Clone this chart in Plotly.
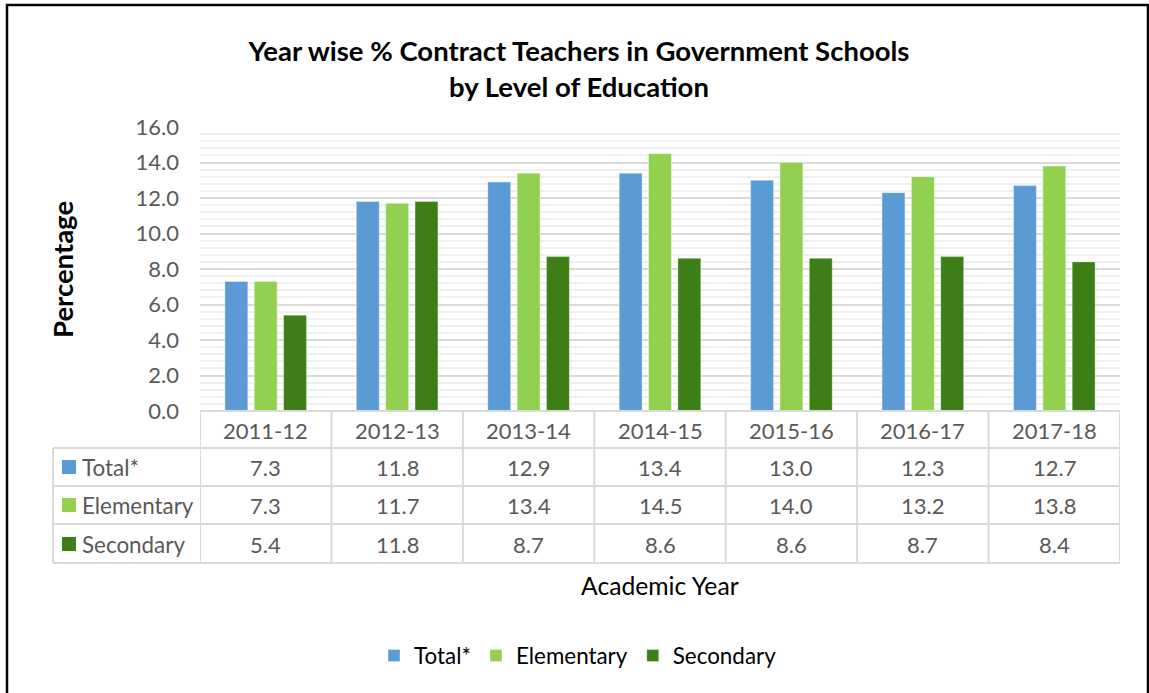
import plotly.graph_objects as go

# ---- data ----
years = ["2011-12", "2012-13", "2013-14", "2014-15", "2015-16", "2016-17", "2017-18"]
total = [7.3, 11.8, 12.9, 13.4, 13.0, 12.3, 12.7]
elementary = [7.3, 11.7, 13.4, 14.5, 14.0, 13.2, 13.8]
secondary = [5.4, 11.8, 8.7, 8.6, 8.6, 8.7, 8.4]
series_names = ["Total*", "Elementary", "Secondary"]
y_ticks = [0, 2, 4, 6, 8, 10, 12, 14, 16]

colors = ["#5B9BD5", "#92D050", "#3E7E17"]
FONT = "Lato"
GRAY = "#595959"
LINE = "#D9D9D9"

W, H = 1149, 693
L, R, T, B = 200, 1120, 127, 411


def px(x):
    return (x - L) / (R - L)


def py(y):
    return (B - y) / (B - T)


fig = go.Figure()
for name, vals, c in zip(series_names, [total, elementary, secondary], colors):
    fig.add_trace(go.Bar(
        x=years, y=vals, name=name,
        marker=dict(color=c, line=dict(color="rgba(255,255,255,0.35)", width=1)),
        hoverinfo="x+y+name",
    ))

shapes = []
annotations = []

# table geometry (pixels)
row_lines = [448, 486, 524, 563]
header_top = B
left_col = 53
row_centers = [467, 505, 544]

# horizontal lines
shapes.append(dict(type="line", xref="paper", yref="paper",
                   x0=0, x1=1, y0=py(header_top), y1=py(header_top),
                   line=dict(color=LINE, width=2)))
for yl in row_lines:
    shapes.append(dict(type="line", xref="paper", yref="paper",
                       x0=px(left_col), x1=1, y0=py(yl), y1=py(yl),
                       line=dict(color=LINE, width=2)))
# vertical lines at category boundaries
for i in range(len(years) + 1):
    shapes.append(dict(type="line", xref="x", yref="paper",
                       x0=i - 0.5, x1=i - 0.5, y0=py(header_top), y1=py(row_lines[-1]),
                       line=dict(color=LINE, width=2)))
# left column border
shapes.append(dict(type="line", xref="paper", yref="paper",
                   x0=px(left_col), x1=px(left_col), y0=py(row_lines[0]), y1=py(row_lines[-1]),
                   line=dict(color=LINE, width=2)))

# header row: categories
for yr in years:
    annotations.append(dict(x=yr, xref="x", y=py(430), yref="paper", text=yr,
                            showarrow=False, font=dict(family=FONT, size=22, color=GRAY),
                            xanchor="center", yanchor="middle"))

# rows
for name, vals, c, yc in zip(series_names, [total, elementary, secondary], colors, row_centers):
    shapes.append(dict(type="rect", xref="paper", yref="paper",
                       x0=px(62), x1=px(76), y0=py(yc - 7), y1=py(yc + 7),
                       fillcolor=c, line=dict(width=0)))
    annotations.append(dict(x=px(80), xref="paper", y=py(yc), yref="paper", text=name,
                            showarrow=False, font=dict(family=FONT, size=22.4, color=GRAY),
                            xanchor="left", yanchor="middle"))
    for yr, v in zip(years, vals):
        annotations.append(dict(x=yr, xref="x", y=py(yc), yref="paper", text=f"{v:.1f}",
                                showarrow=False, font=dict(family=FONT, size=22, color=GRAY),
                                xanchor="center", yanchor="middle"))

# axis titles
annotations.append(dict(x=px(62), xref="paper", y=py(270), yref="paper", text="<b>Percentage</b>",
                        textangle=-90, showarrow=False,
                        font=dict(family=FONT, size=27.5, color="#000000"),
                        xanchor="center", yanchor="middle"))
annotations.append(dict(x=px(660), xref="paper", y=py(585), yref="paper", text="Academic Year",
                        showarrow=False, font=dict(family=FONT, size=24.7, color="#000000"),
                        xanchor="center", yanchor="middle"))

# chart border
shapes.append(dict(type="rect", xref="paper", yref="paper",
                   x0=px(7), x1=px(1148), y0=py(5), y1=py(720),
                   line=dict(color="#000000", width=2.5), fillcolor="rgba(0,0,0,0)"))

fig.update_layout(
    width=W, height=H, autosize=False,
    margin=dict(l=L, r=W - R, t=T, b=H - B),
    paper_bgcolor="white", plot_bgcolor="white",
    barmode="group", bargap=0.33, bargroupgap=0.22,
    title=dict(text="<b>Year wise % Contract Teachers in Government Schools<br>by Level of Education</b>",
               x=579 / W, xanchor="center", xref="container",
               y=1 - 61 / H, yanchor="middle", yref="container",
               font=dict(family=FONT, size=27.5, color="#000000")),
    xaxis=dict(type="category", range=[-0.5, len(years) - 0.5], showticklabels=False,
               showgrid=False, ticks="", showline=False, zeroline=False),
    yaxis=dict(range=[0, 16], tickvals=y_ticks, ticktext=[f"{t:.1f}" for t in y_ticks],
               showgrid=True, gridcolor=LINE, gridwidth=2,
               minor=dict(dtick=0.4, showgrid=True, gridcolor="#F0F0F0", gridwidth=2),
               zeroline=False, showline=False, ticks="",
               ticklabelstandoff=20,
               tickfont=dict(family=FONT, size=22, color=GRAY)),
    legend=dict(orientation="h", x=px(578), xanchor="center", y=py(656), yanchor="middle",
                font=dict(family=FONT, size=22.4, color="#000000"), itemwidth=30,
                traceorder="normal"),
    shapes=shapes, annotations=annotations,
)

fig.write_html("out.html", config={"displayModeBar": False},
               post_script="document.body.style.margin='0';")
